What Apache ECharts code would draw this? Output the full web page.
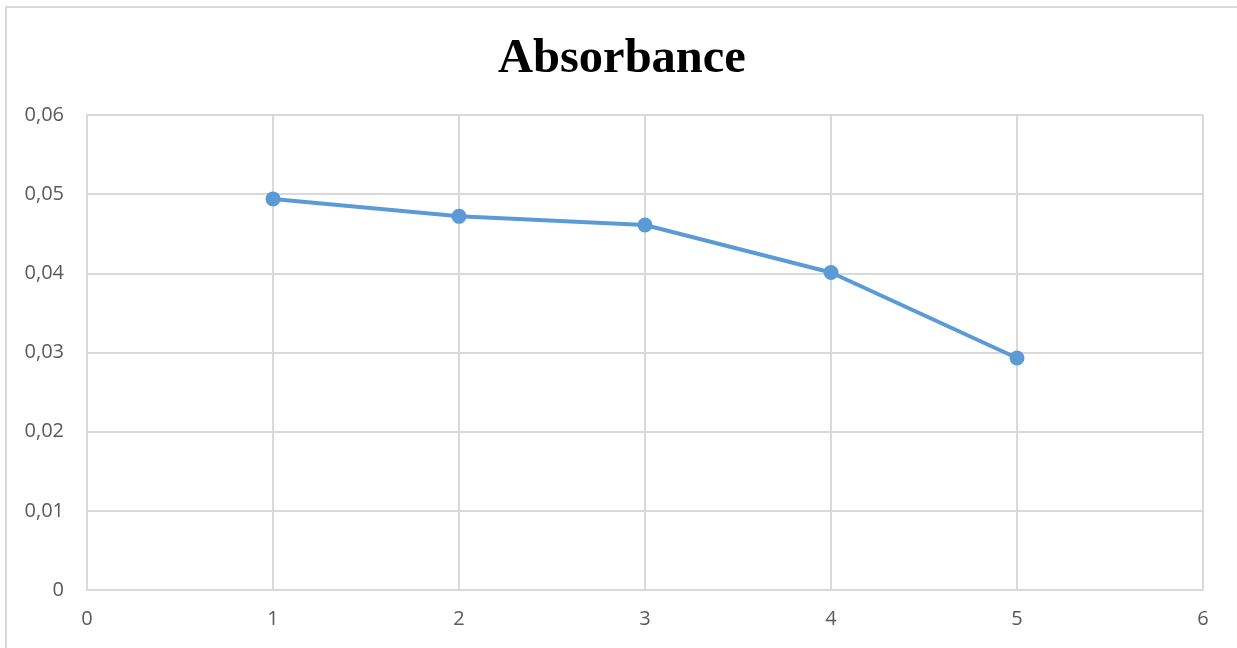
<!DOCTYPE html>
<html>
<head>
<meta charset="utf-8">
<script src="https://cdn.jsdelivr.net/npm/echarts@6/dist/echarts.min.js"></script>
<style>
  html, body { margin: 0; padding: 0; background: #fff; }
  #frame { position: absolute; left: 5px; top: 6px; width: 1240px; height: 660px;
           border-left: 2px solid #d9d9d9; border-top: 2px solid #d9d9d9; box-sizing: border-box; }
  #chart { position: absolute; left: 0; top: 0; width: 1237px; height: 648px; }
</style>
</head>
<body>
<div id="frame"></div>
<div id="chart"></div>
<script>
// Sample index and measured absorbance
const samples = [1, 2, 3, 4, 5];
const absorbance = [0.0494, 0.0472, 0.0461, 0.0401, 0.0293];
const xTicks = [0, 1, 2, 3, 4, 5, 6];
const yTicks = [0, 0.01, 0.02, 0.03, 0.04, 0.05, 0.06];

const fmt = v => (v === 0 ? '0' : v.toFixed(2).replace('.', ','));

const chart = echarts.init(document.getElementById('chart'));
chart.setOption({
  backgroundColor: 'transparent',
  animation: false,
  title: {
    text: 'Absorbance',
    left: 493,
    top: 30,
    textStyle: { fontFamily: 'Liberation Serif', fontWeight: 'bold', fontSize: 48.5, color: '#000' }
  },
  grid: { left: 87, top: 115, width: 1116, height: 475 },
  xAxis: {
    type: 'value',
    min: xTicks[0], max: xTicks[xTicks.length - 1], interval: 1,
    axisLine: { show: true, lineStyle: { color: '#d9d9d9', width: 2 } },
    axisTick: { show: false },
    axisLabel: { color: '#595959', fontSize: 20, fontFamily: 'Open Sans', margin: 19 },
    splitLine: { show: true, lineStyle: { color: '#d9d9d9', width: 2 } }
  },
  yAxis: {
    type: 'value',
    min: yTicks[0], max: yTicks[yTicks.length - 1], interval: 0.01,
    axisLine: { show: true, lineStyle: { color: '#d9d9d9', width: 2 } },
    axisTick: { show: false },
    axisLabel: { color: '#595959', fontSize: 20, fontFamily: 'Open Sans', margin: 23, formatter: fmt },
    splitLine: { show: true, lineStyle: { color: '#d9d9d9', width: 2 } }
  },
  series: [{
    type: 'line',
    data: samples.map((x, i) => [x, absorbance[i]]),
    symbol: 'circle',
    symbolSize: 15,
    lineStyle: { color: '#5b9bd5', width: 4 },
    itemStyle: { color: '#5b9bd5' }
  }]
});
</script>
</body>
</html>
